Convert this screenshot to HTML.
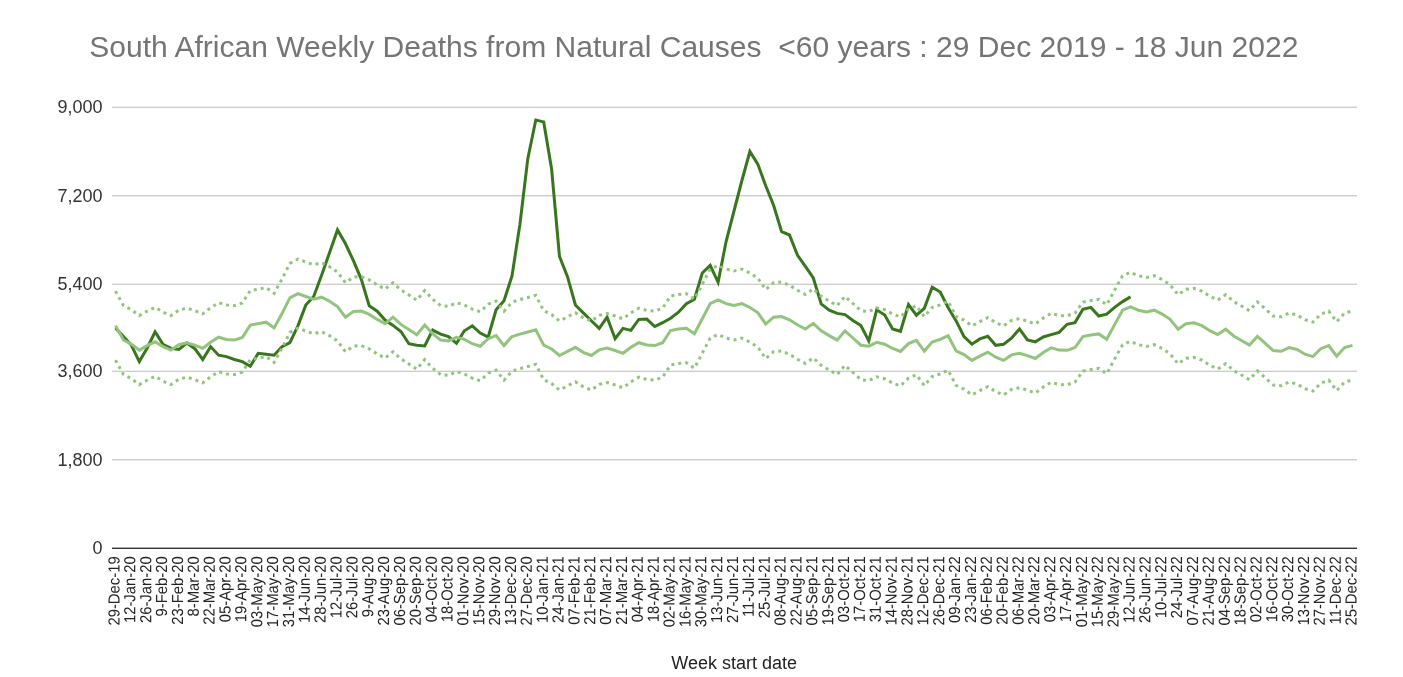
<!DOCTYPE html>
<html lang="en"><head><meta charset="utf-8"><title>South African Weekly Deaths from Natural Causes</title>
<style>html,body{margin:0;padding:0;background:#fff}body{width:1403px;height:677px;overflow:hidden}svg{display:block}text{font-family:"Liberation Sans",sans-serif}</style></head><body>
<svg width="1403" height="677" viewBox="0 0 1403 677">
<rect width="1403" height="677" fill="#fff"/>
<text x="89.25" y="57" font-size="30" fill="#757575" xml:space="preserve" textLength="1209.2" lengthAdjust="spacingAndGlyphs">South African Weekly Deaths from Natural Causes  &lt;60 years : 29 Dec 2019 - 18 Jun 2022</text>
<g fill="#ccc">
<rect x="112" y="106.68" width="1245" height="1.32"/>
<rect x="112" y="195" width="1245" height="1.38"/>
<rect x="112" y="283.68" width="1245" height="1.32"/>
<rect x="112" y="370.68" width="1245" height="1.32"/>
<rect x="112" y="459" width="1245" height="1.38"/>
</g>
<rect x="112" y="547.6" width="1245" height="1.4" fill="#333"/>
<g font-size="18" fill="#333" text-anchor="end">
<text x="102.5" y="554.3">0</text>
<text x="102.5" y="466.1">1,800</text>
<text x="102.5" y="377.1">3,600</text>
<text x="102.5" y="289.7">5,400</text>
<text x="102.5" y="201.5">7,200</text>
<text x="102.5" y="113.3">9,000</text>
</g>
<g fill="none" stroke-width="3">
<polyline stroke="#38761d" points="115.5,328.0 123.4,336.6 131.3,345.1 139.3,361.6 147.2,348.0 155.1,331.8 163.0,344.4 171.0,348.4 178.9,349.4 186.8,343.0 194.8,348.7 202.7,359.5 210.6,346.6 218.6,355.2 226.5,356.6 234.4,359.5 242.3,361.6 250.3,366.2 258.2,353.3 266.1,354.2 274.1,355.2 282.0,346.6 289.9,342.7 297.9,325.8 305.8,305.1 313.7,296.5 321.6,275.3 329.6,252.4 337.5,229.9 345.4,243.5 353.4,260.7 361.3,279.3 369.2,305.8 377.2,311.2 385.1,320.1 393.0,325.4 400.9,331.5 408.9,343.7 416.8,345.2 424.7,345.9 432.7,330.1 440.6,334.1 448.5,336.6 456.5,343.3 464.4,330.8 472.3,325.8 480.2,333.0 488.2,337.0 496.1,309.8 504.0,300.7 512.0,275.9 519.9,224.4 527.8,158.7 535.8,120.0 543.7,121.9 551.6,169.0 559.5,256.5 567.5,276.7 575.4,305.0 583.3,312.9 591.3,320.8 599.2,328.4 607.1,317.2 615.1,338.7 623.0,328.4 630.9,330.4 638.8,319.4 646.8,319.1 654.7,326.5 662.6,322.7 670.6,318.2 678.5,312.2 686.4,303.7 694.4,299.3 702.3,273.0 710.2,265.4 718.1,282.3 726.1,241.5 734.0,211.0 741.9,180.5 749.9,151.5 757.8,164.1 765.7,185.8 773.6,205.2 781.6,231.6 789.5,235.0 797.4,255.1 805.4,266.3 813.3,278.0 821.2,303.9 829.2,310.1 837.1,313.4 845.0,314.6 852.9,320.5 860.9,325.5 868.8,340.9 876.7,309.8 884.7,315.0 892.6,328.9 900.5,331.3 908.5,304.5 916.4,315.2 924.3,308.4 932.2,287.3 940.2,292.0 948.1,307.4 956.0,320.7 964.0,336.7 971.9,344.2 979.8,338.9 987.8,336.3 995.7,345.3 1003.6,344.2 1011.5,338.2 1019.5,328.9 1027.4,339.9 1035.3,341.8 1043.3,337.0 1051.2,334.6 1059.1,332.4 1067.1,324.3 1075.0,322.6 1082.9,309.2 1090.8,307.4 1098.8,316.0 1106.7,314.1 1114.6,307.4 1122.6,301.6 1130.5,296.9"/>
<polyline stroke="#93c47d" points="115.5,325.6 123.4,340.0 131.3,344.1 139.3,350.1 147.2,345.6 155.1,341.8 163.0,346.6 171.0,350.1 178.9,344.7 186.8,342.7 194.8,345.1 202.7,348.4 210.6,342.3 218.6,337.2 226.5,339.4 234.4,340.1 242.3,337.5 250.3,325.1 258.2,323.6 266.1,322.2 274.1,327.9 282.0,313.6 289.9,297.9 297.9,293.6 305.8,296.5 313.7,299.3 321.6,297.2 329.6,301.2 337.5,306.5 345.4,317.2 353.4,311.5 361.3,311.1 369.2,314.4 377.2,319.4 385.1,323.7 393.0,317.2 400.9,324.4 408.9,329.4 416.8,334.7 424.7,325.1 432.7,333.7 440.6,340.1 448.5,340.9 456.5,337.3 464.4,339.4 472.3,343.7 480.2,346.2 488.2,338.7 496.1,335.6 504.0,345.6 512.0,336.6 519.9,334.1 527.8,332.0 535.8,329.8 543.7,345.2 551.6,349.0 559.5,355.5 567.5,351.3 575.4,347.3 583.3,352.3 591.3,355.5 599.2,349.9 607.1,348.0 615.1,350.5 623.0,353.3 630.9,347.3 638.8,342.7 646.8,344.9 654.7,345.6 662.6,342.7 670.6,330.5 678.5,329.1 686.4,328.2 694.4,333.7 702.3,318.7 710.2,303.6 718.1,300.0 726.1,303.6 734.0,305.5 741.9,303.6 749.9,307.5 757.8,312.6 765.7,324.1 773.6,317.2 781.6,316.5 789.5,319.8 797.4,324.7 805.4,329.0 813.3,323.4 821.2,330.8 829.2,335.6 837.1,340.1 845.0,330.8 852.9,338.0 860.9,345.2 868.8,346.2 876.7,342.3 884.7,344.2 892.6,348.5 900.5,351.4 908.5,343.6 916.4,340.3 924.3,351.1 932.2,342.0 940.2,339.3 948.1,335.6 956.0,350.8 964.0,354.6 971.9,360.4 979.8,356.1 987.8,352.1 995.7,357.2 1003.6,360.4 1011.5,354.9 1019.5,353.2 1027.4,355.6 1035.3,358.5 1043.3,352.5 1051.2,347.8 1059.1,350.1 1067.1,350.3 1075.0,347.5 1082.9,336.5 1090.8,335.0 1098.8,333.9 1106.7,339.3 1114.6,324.6 1122.6,310.2 1130.5,306.9 1138.4,310.2 1146.4,312.0 1154.3,310.2 1162.2,314.1 1170.1,319.3 1178.1,329.3 1186.0,323.8 1193.9,322.8 1201.9,325.7 1209.8,330.7 1217.7,334.6 1225.7,329.2 1233.6,336.0 1241.5,340.5 1249.4,345.1 1257.4,336.4 1265.3,343.4 1273.2,350.5 1281.2,351.3 1289.1,347.6 1297.0,349.5 1305.0,354.2 1312.9,356.6 1320.8,348.7 1328.7,345.6 1336.7,356.2 1344.6,347.6 1352.5,345.4"/>
<polyline stroke="#93c47d" stroke-dasharray="3 4" points="115.5,291.1 123.4,305.5 131.3,309.6 139.3,315.6 147.2,311.1 155.1,307.3 163.0,312.1 171.0,315.6 178.9,310.2 186.8,308.2 194.8,310.6 202.7,313.9 210.6,307.8 218.6,302.7 226.5,304.9 234.4,305.6 242.3,303.0 250.3,290.6 258.2,289.1 266.1,287.7 274.1,293.4 282.0,279.1 289.9,263.4 297.9,259.1 305.8,262.0 313.7,264.8 321.6,262.7 329.6,266.7 337.5,272.0 345.4,282.7 353.4,277.0 361.3,276.6 369.2,279.9 377.2,284.9 385.1,289.2 393.0,282.7 400.9,289.9 408.9,294.9 416.8,300.2 424.7,290.6 432.7,299.2 440.6,305.6 448.5,306.4 456.5,302.8 464.4,304.9 472.3,309.2 480.2,311.7 488.2,304.2 496.1,301.1 504.0,311.1 512.0,302.1 519.9,299.6 527.8,297.5 535.8,295.3 543.7,310.7 551.6,314.5 559.5,321.0 567.5,316.8 575.4,312.8 583.3,317.8 591.3,321.0 599.2,315.4 607.1,313.5 615.1,316.0 623.0,318.8 630.9,312.8 638.8,308.2 646.8,310.4 654.7,311.1 662.6,308.2 670.6,296.0 678.5,294.6 686.4,293.7 694.4,299.2 702.3,284.2 710.2,269.1 718.1,265.5 726.1,269.1 734.0,271.0 741.9,269.1 749.9,273.0 757.8,278.1 765.7,289.6 773.6,282.7 781.6,282.0 789.5,285.3 797.4,290.2 805.4,294.5 813.3,288.9 821.2,296.3 829.2,301.1 837.1,305.6 845.0,296.3 852.9,303.5 860.9,310.7 868.8,311.7 876.7,307.8 884.7,309.7 892.6,314.0 900.5,316.9 908.5,309.1 916.4,305.8 924.3,316.6 932.2,307.5 940.2,304.8 948.1,301.1 956.0,316.3 964.0,320.1 971.9,325.9 979.8,321.6 987.8,317.6 995.7,322.7 1003.6,325.9 1011.5,320.4 1019.5,318.7 1027.4,321.1 1035.3,324.0 1043.3,318.0 1051.2,313.3 1059.1,315.6 1067.1,315.8 1075.0,313.0 1082.9,302.0 1090.8,300.5 1098.8,299.4 1106.7,304.8 1114.6,290.1 1122.6,275.7 1130.5,272.4 1138.4,275.7 1146.4,277.5 1154.3,275.7 1162.2,279.6 1170.1,284.8 1178.1,294.8 1186.0,289.3 1193.9,288.3 1201.9,291.2 1209.8,296.2 1217.7,300.1 1225.7,294.7 1233.6,301.5 1241.5,306.0 1249.4,310.6 1257.4,301.9 1265.3,308.9 1273.2,316.0 1281.2,316.8 1289.1,313.1 1297.0,315.0 1305.0,319.7 1312.9,322.1 1320.8,314.2 1328.7,311.1 1336.7,321.7 1344.6,313.1 1352.5,310.9"/>
<polyline stroke="#93c47d" stroke-dasharray="3 4" points="115.5,360.1 123.4,374.5 131.3,378.6 139.3,384.6 147.2,380.1 155.1,376.3 163.0,381.1 171.0,384.6 178.9,379.2 186.8,377.2 194.8,379.6 202.7,382.9 210.6,376.8 218.6,371.7 226.5,373.9 234.4,374.6 242.3,372.0 250.3,359.6 258.2,358.1 266.1,356.7 274.1,362.4 282.0,348.1 289.9,332.4 297.9,328.1 305.8,331.0 313.7,333.8 321.6,331.7 329.6,335.7 337.5,341.0 345.4,351.7 353.4,346.0 361.3,345.6 369.2,348.9 377.2,353.9 385.1,358.2 393.0,351.7 400.9,358.9 408.9,363.9 416.8,369.2 424.7,359.6 432.7,368.2 440.6,374.6 448.5,375.4 456.5,371.8 464.4,373.9 472.3,378.2 480.2,380.7 488.2,373.2 496.1,370.1 504.0,380.1 512.0,371.1 519.9,368.6 527.8,366.5 535.8,364.3 543.7,379.7 551.6,383.5 559.5,390.0 567.5,385.8 575.4,381.8 583.3,386.8 591.3,390.0 599.2,384.4 607.1,382.5 615.1,385.0 623.0,387.8 630.9,381.8 638.8,377.2 646.8,379.4 654.7,380.1 662.6,377.2 670.6,365.0 678.5,363.6 686.4,362.7 694.4,368.2 702.3,353.2 710.2,338.1 718.1,334.5 726.1,338.1 734.0,340.0 741.9,338.1 749.9,342.0 757.8,347.1 765.7,358.6 773.6,351.7 781.6,351.0 789.5,354.3 797.4,359.2 805.4,363.5 813.3,357.9 821.2,365.3 829.2,370.1 837.1,374.6 845.0,365.3 852.9,372.5 860.9,379.7 868.8,380.7 876.7,376.8 884.7,378.7 892.6,383.0 900.5,385.9 908.5,378.1 916.4,374.8 924.3,385.6 932.2,376.5 940.2,373.8 948.1,370.1 956.0,385.3 964.0,389.1 971.9,394.9 979.8,390.6 987.8,386.6 995.7,391.7 1003.6,394.9 1011.5,389.4 1019.5,387.7 1027.4,390.1 1035.3,393.0 1043.3,387.0 1051.2,382.3 1059.1,384.6 1067.1,384.8 1075.0,382.0 1082.9,371.0 1090.8,369.5 1098.8,368.4 1106.7,373.8 1114.6,359.1 1122.6,344.7 1130.5,341.4 1138.4,344.7 1146.4,346.5 1154.3,344.7 1162.2,348.6 1170.1,353.8 1178.1,363.8 1186.0,358.3 1193.9,357.3 1201.9,360.2 1209.8,365.2 1217.7,369.1 1225.7,363.7 1233.6,370.5 1241.5,375.0 1249.4,379.6 1257.4,370.9 1265.3,377.9 1273.2,385.0 1281.2,385.8 1289.1,382.1 1297.0,384.0 1305.0,388.7 1312.9,391.1 1320.8,383.2 1328.7,380.1 1336.7,390.7 1344.6,382.1 1352.5,379.9"/>
</g>
<g font-size="16" fill="#222" text-anchor="end">
<text transform="translate(119.50 556.3) rotate(-89.95) scale(.928 1)">29-Dec-19</text>
<text transform="translate(135.36 556.3) rotate(-89.95) scale(.928 1)">12-Jan-20</text>
<text transform="translate(151.22 556.3) rotate(-89.95) scale(.928 1)">26-Jan-20</text>
<text transform="translate(167.08 556.3) rotate(-89.95) scale(.928 1)">9-Feb-20</text>
<text transform="translate(182.94 556.3) rotate(-89.95) scale(.928 1)">23-Feb-20</text>
<text transform="translate(198.80 556.3) rotate(-89.95) scale(.928 1)">8-Mar-20</text>
<text transform="translate(214.66 556.3) rotate(-89.95) scale(.928 1)">22-Mar-20</text>
<text transform="translate(230.52 556.3) rotate(-89.95) scale(.928 1)">05-Apr-20</text>
<text transform="translate(246.38 556.3) rotate(-89.95) scale(.928 1)">19-Apr-20</text>
<text transform="translate(262.24 556.3) rotate(-89.95) scale(.928 1)">03-May-20</text>
<text transform="translate(278.10 556.3) rotate(-89.95) scale(.928 1)">17-May-20</text>
<text transform="translate(293.96 556.3) rotate(-89.95) scale(.928 1)">31-May-20</text>
<text transform="translate(309.82 556.3) rotate(-89.95) scale(.928 1)">14-Jun-20</text>
<text transform="translate(325.68 556.3) rotate(-89.95) scale(.928 1)">28-Jun-20</text>
<text transform="translate(341.54 556.3) rotate(-89.95) scale(.928 1)">12-Jul-20</text>
<text transform="translate(357.40 556.3) rotate(-89.95) scale(.928 1)">26-Jul-20</text>
<text transform="translate(373.26 556.3) rotate(-89.95) scale(.928 1)">9-Aug-20</text>
<text transform="translate(389.12 556.3) rotate(-89.95) scale(.928 1)">23-Aug-20</text>
<text transform="translate(404.98 556.3) rotate(-89.95) scale(.928 1)">06-Sep-20</text>
<text transform="translate(420.84 556.3) rotate(-89.95) scale(.928 1)">20-Sep-20</text>
<text transform="translate(436.70 556.3) rotate(-89.95) scale(.928 1)">04-Oct-20</text>
<text transform="translate(452.56 556.3) rotate(-89.95) scale(.928 1)">18-Oct-20</text>
<text transform="translate(468.42 556.3) rotate(-89.95) scale(.928 1)">01-Nov-20</text>
<text transform="translate(484.28 556.3) rotate(-89.95) scale(.928 1)">15-Nov-20</text>
<text transform="translate(500.14 556.3) rotate(-89.95) scale(.928 1)">29-Nov-20</text>
<text transform="translate(516.00 556.3) rotate(-89.95) scale(.928 1)">13-Dec-20</text>
<text transform="translate(531.86 556.3) rotate(-89.95) scale(.928 1)">27-Dec-20</text>
<text transform="translate(547.72 556.3) rotate(-89.95) scale(.928 1)">10-Jan-21</text>
<text transform="translate(563.58 556.3) rotate(-89.95) scale(.928 1)">24-Jan-21</text>
<text transform="translate(579.44 556.3) rotate(-89.95) scale(.928 1)">07-Feb-21</text>
<text transform="translate(595.30 556.3) rotate(-89.95) scale(.928 1)">21-Feb-21</text>
<text transform="translate(611.16 556.3) rotate(-89.95) scale(.928 1)">07-Mar-21</text>
<text transform="translate(627.02 556.3) rotate(-89.95) scale(.928 1)">21-Mar-21</text>
<text transform="translate(642.88 556.3) rotate(-89.95) scale(.928 1)">04-Apr-21</text>
<text transform="translate(658.74 556.3) rotate(-89.95) scale(.928 1)">18-Apr-21</text>
<text transform="translate(674.60 556.3) rotate(-89.95) scale(.928 1)">02-May-21</text>
<text transform="translate(690.46 556.3) rotate(-89.95) scale(.928 1)">16-May-21</text>
<text transform="translate(706.32 556.3) rotate(-89.95) scale(.928 1)">30-May-21</text>
<text transform="translate(722.18 556.3) rotate(-89.95) scale(.928 1)">13-Jun-21</text>
<text transform="translate(738.04 556.3) rotate(-89.95) scale(.928 1)">27-Jun-21</text>
<text transform="translate(753.90 556.3) rotate(-89.95) scale(.928 1)">11-Jul-21</text>
<text transform="translate(769.76 556.3) rotate(-89.95) scale(.928 1)">25-Jul-21</text>
<text transform="translate(785.62 556.3) rotate(-89.95) scale(.928 1)">08-Aug-21</text>
<text transform="translate(801.48 556.3) rotate(-89.95) scale(.928 1)">22-Aug-21</text>
<text transform="translate(817.34 556.3) rotate(-89.95) scale(.928 1)">05-Sep-21</text>
<text transform="translate(833.20 556.3) rotate(-89.95) scale(.928 1)">19-Sep-21</text>
<text transform="translate(849.06 556.3) rotate(-89.95) scale(.928 1)">03-Oct-21</text>
<text transform="translate(864.92 556.3) rotate(-89.95) scale(.928 1)">17-Oct-21</text>
<text transform="translate(880.78 556.3) rotate(-89.95) scale(.928 1)">31-Oct-21</text>
<text transform="translate(896.64 556.3) rotate(-89.95) scale(.928 1)">14-Nov-21</text>
<text transform="translate(912.50 556.3) rotate(-89.95) scale(.928 1)">28-Nov-21</text>
<text transform="translate(928.36 556.3) rotate(-89.95) scale(.928 1)">12-Dec-21</text>
<text transform="translate(944.22 556.3) rotate(-89.95) scale(.928 1)">26-Dec-21</text>
<text transform="translate(960.08 556.3) rotate(-89.95) scale(.928 1)">09-Jan-22</text>
<text transform="translate(975.94 556.3) rotate(-89.95) scale(.928 1)">23-Jan-22</text>
<text transform="translate(991.80 556.3) rotate(-89.95) scale(.928 1)">06-Feb-22</text>
<text transform="translate(1007.66 556.3) rotate(-89.95) scale(.928 1)">20-Feb-22</text>
<text transform="translate(1023.52 556.3) rotate(-89.95) scale(.928 1)">06-Mar-22</text>
<text transform="translate(1039.38 556.3) rotate(-89.95) scale(.928 1)">20-Mar-22</text>
<text transform="translate(1055.24 556.3) rotate(-89.95) scale(.928 1)">03-Apr-22</text>
<text transform="translate(1071.10 556.3) rotate(-89.95) scale(.928 1)">17-Apr-22</text>
<text transform="translate(1086.96 556.3) rotate(-89.95) scale(.928 1)">01-May-22</text>
<text transform="translate(1102.82 556.3) rotate(-89.95) scale(.928 1)">15-May-22</text>
<text transform="translate(1118.68 556.3) rotate(-89.95) scale(.928 1)">29-May-22</text>
<text transform="translate(1134.54 556.3) rotate(-89.95) scale(.928 1)">12-Jun-22</text>
<text transform="translate(1150.40 556.3) rotate(-89.95) scale(.928 1)">26-Jun-22</text>
<text transform="translate(1166.26 556.3) rotate(-89.95) scale(.928 1)">10-Jul-22</text>
<text transform="translate(1182.12 556.3) rotate(-89.95) scale(.928 1)">24-Jul-22</text>
<text transform="translate(1197.98 556.3) rotate(-89.95) scale(.928 1)">07-Aug-22</text>
<text transform="translate(1213.84 556.3) rotate(-89.95) scale(.928 1)">21-Aug-22</text>
<text transform="translate(1229.70 556.3) rotate(-89.95) scale(.928 1)">04-Sep-22</text>
<text transform="translate(1245.56 556.3) rotate(-89.95) scale(.928 1)">18-Sep-22</text>
<text transform="translate(1261.42 556.3) rotate(-89.95) scale(.928 1)">02-Oct-22</text>
<text transform="translate(1277.28 556.3) rotate(-89.95) scale(.928 1)">16-Oct-22</text>
<text transform="translate(1293.14 556.3) rotate(-89.95) scale(.928 1)">30-Oct-22</text>
<text transform="translate(1309.00 556.3) rotate(-89.95) scale(.928 1)">13-Nov-22</text>
<text transform="translate(1324.86 556.3) rotate(-89.95) scale(.928 1)">27-Nov-22</text>
<text transform="translate(1340.72 556.3) rotate(-89.95) scale(.928 1)">11-Dec-22</text>
<text transform="translate(1356.58 556.3) rotate(-89.95) scale(.928 1)">25-Dec-22</text>
</g>
<text x="734.2" y="669" font-size="18" fill="#222" text-anchor="middle">Week start date</text>
</svg></body></html>
